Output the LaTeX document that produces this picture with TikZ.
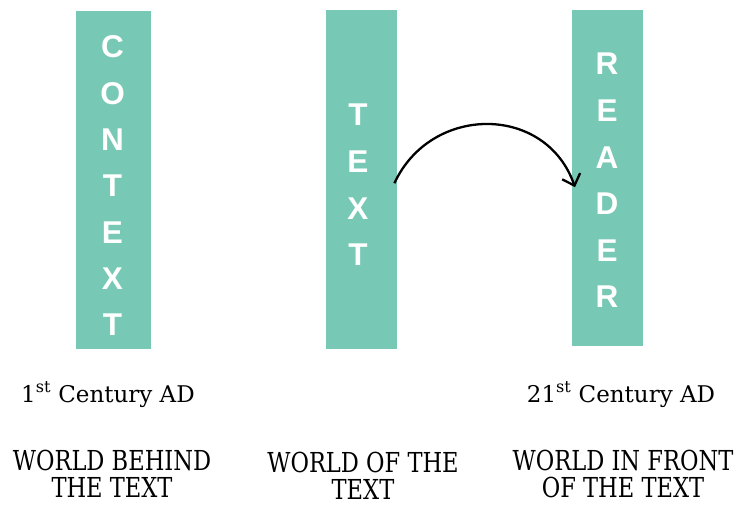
\documentclass[tikz,border=0pt]{standalone}
\usepackage{fontspec}
\usetikzlibrary{arrows.meta}
\newfontfamily\capf[FakeStretch=0.82]{DejaVu Serif}
\newfontfamily\lowf{DejaVu Serif}
\newfontfamily\barf{Liberation Sans}
\definecolor{barg}{HTML}{77C9B5}
\begin{document}
\begin{tikzpicture}[x=1pt,y=-1pt,
  bar/.style={fill=barg,draw=none,inner sep=0pt,anchor=north west},
  ltr/.style={text=white,font=\barf\bfseries\fontsize{31.5}{33}\selectfont,inner sep=0pt,anchor=center},
  captxt/.style={font=\capf\fontsize{27.5}{29}\selectfont,inner sep=0pt,anchor=base},
  cent/.style={font=\lowf\fontsize{23}{25}\selectfont,inner sep=0pt,anchor=base},
  arr/.style={line width=2.3pt,-{Straight Barb[length=10pt,width=19pt,line width=2.3pt]}}]
\useasboundingbox (0,0) rectangle (736,504);
\node[bar,minimum width=75pt,minimum height=338pt] (b1) at (76,11) {};
\node[bar,minimum width=71pt,minimum height=339pt] (b2) at (326,10) {};
\node[bar,minimum width=71pt,minimum height=336pt] (b3) at (572,10) {};
\foreach \l [count=\i] in {C,O,N,T,E,X,T}
  \node[ltr] (c\i) at (112.5,{47+46.3*(\i-1)}) {\l};
\foreach \l [count=\i] in {T,E,X,T}
  \node[ltr] (t\i) at (358,{115+46.7*(\i-1)}) {\l};
\foreach \l [count=\i] in {R,E,A,D,E,R}
  \node[ltr] (r\i) at (607,{64+46.6*(\i-1)}) {\l};
\draw[arr] ([shift={(-3,3.5)}]b2.east) .. controls (431,104) and (546,104) .. ([shift={(3,9)}]b3.west);
\node[cent] (d1) at (108,402) {1\textsuperscript{st} Century AD};
\node[cent] (d2) at (621,402) {21\textsuperscript{st} Century AD};
\node[captxt] (w1a) at (112,470) {WORLD BEHIND};
\node[captxt] (w1b) at (112,497) {THE TEXT};
\node[captxt] (w2a) at (363,472) {WORLD OF THE};
\node[captxt] (w2b) at (363,499) {TEXT};
\node[captxt] (w3a) at (623,470) {WORLD IN FRONT};
\node[captxt] (w3b) at (623,497) {OF THE TEXT};
\end{tikzpicture}
\end{document}
